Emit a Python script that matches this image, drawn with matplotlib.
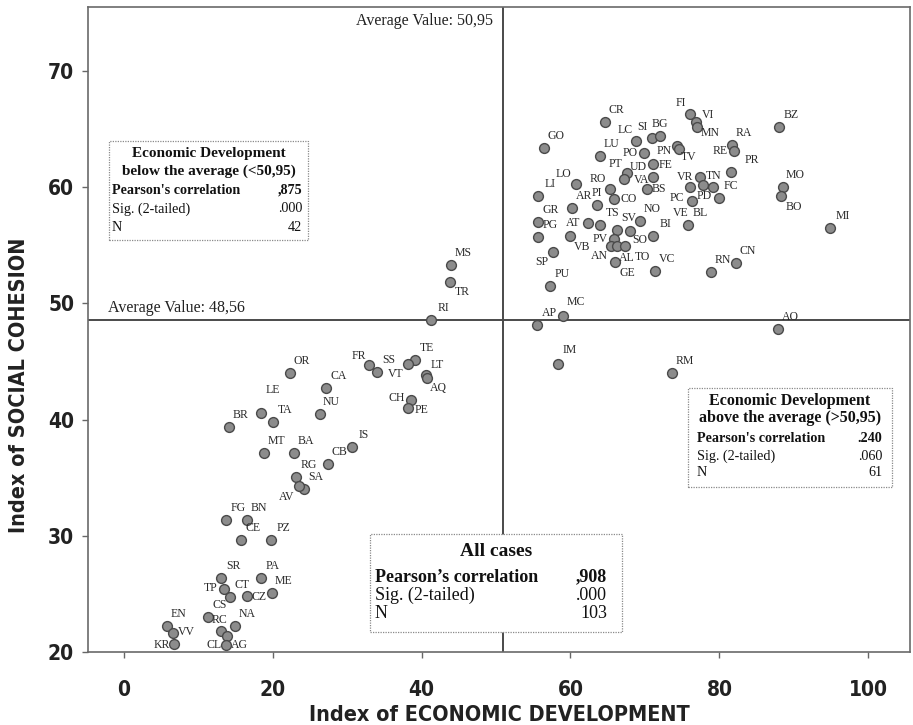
import matplotlib
matplotlib.use('Agg')
import matplotlib.pyplot as plt
from matplotlib import font_manager
from matplotlib.font_manager import FontProperties
from matplotlib.patches import Rectangle

# ---------------- data ----------------
codes = ['CR', 'FI', 'VI', 'BZ', 'GO', 'LC', 'SI', 'BG', 'MN', 'RA', 'LU', 'PO', 'PN', 'TV',
         'RE', 'PR', 'PT', 'UD', 'FE', 'LO', 'RO', 'VA', 'VR', 'TN', 'MO', 'LI', 'AR', 'PI',
         'BS', 'FC', 'PC', 'PD', 'VE', 'CO', 'BO', 'MI', 'GR', 'PG', 'AT', 'TS', 'NO', 'BL',
         'SV', 'BI', 'VB', 'PV', 'SO', 'AN', 'AL', 'TO', 'VC', 'RN', 'CN', 'SP', 'GE', 'PU',
         'MC', 'AP', 'AO', 'IM', 'RM',
         'MS', 'TR', 'RI', 'OR', 'FR', 'SS', 'TE', 'VT', 'LT', 'AQ', 'CA', 'LE', 'NU', 'TA',
         'BR', 'CH', 'PE', 'MT', 'BA', 'IS', 'CB', 'RG', 'SA', 'AV', 'FG', 'BN', 'CE', 'PZ',
         'SR', 'PA', 'TP', 'CT', 'CZ', 'ME', 'CS', 'RC', 'NA', 'EN', 'VV', 'KR', 'CL', 'AG']
econ = [64.6, 76.1, 76.8, 88.0, 56.5, 68.8, 71.0, 72.0, 77.0, 81.7, 63.9, 69.9, 74.3, 74.6,
        82.0, 81.6, 67.6, 71.1, 71.1, 60.7, 65.3, 67.2, 77.4, 77.8, 88.6, 55.7, 60.2, 63.5,
        70.3, 79.9, 76.1, 76.3, 79.2, 65.9, 88.3, 94.9, 55.7, 55.7, 62.4, 64.0, 69.3, 75.8,
        66.2, 71.1, 59.9, 65.8, 68.0, 65.5, 66.2, 67.3, 71.3, 78.9, 82.2, 57.7, 66.0, 57.3,
        59.0, 55.5, 87.9, 58.3, 73.7,
        44.0, 43.8, 41.3, 22.3, 33.0, 34.0, 39.1, 38.2, 40.6, 40.7, 27.2, 18.4, 26.3, 20.1,
        14.1, 38.6, 38.2, 18.9, 22.8, 30.6, 27.4, 23.2, 24.2, 23.6, 13.7, 16.5, 15.7, 19.8,
        13.1, 18.4, 13.4, 14.3, 16.5, 19.9, 11.3, 13.0, 14.9, 5.8, 6.6, 6.8, 13.9, 13.7]
social = [65.6, 66.3, 65.6, 65.2, 63.4, 64.0, 64.2, 64.4, 65.2, 63.6, 62.7, 62.9, 63.5, 63.3,
          63.1, 61.3, 61.2, 62.0, 60.9, 60.3, 59.8, 60.7, 60.9, 60.2, 60.0, 59.2, 58.2, 58.5,
          59.8, 59.1, 60.0, 58.8, 60.0, 59.0, 59.2, 56.5, 57.0, 55.7, 56.9, 56.7, 57.1, 56.7,
          56.3, 55.8, 55.8, 55.5, 56.2, 54.9, 54.9, 54.9, 52.8, 52.7, 53.5, 54.4, 53.6, 51.5,
          48.9, 48.1, 47.8, 44.8, 44.0,
          53.3, 51.8, 48.6, 44.0, 44.7, 44.1, 45.1, 44.8, 43.8, 43.6, 42.7, 40.6, 40.5, 39.8,
          39.4, 41.7, 41.0, 37.1, 37.1, 37.6, 36.2, 35.1, 34.0, 34.3, 31.4, 31.4, 29.6, 29.6,
          26.4, 26.4, 25.4, 24.7, 24.8, 25.1, 23.0, 21.8, 22.2, 22.2, 21.6, 20.7, 21.4, 20.6]

avg_econ = 50.95
avg_social = 48.56
x_ticks = [0, 20, 40, 60, 80, 100]
y_ticks = [20, 30, 40, 50, 60, 70]

box_below = ['Economic Development', 'below the average (<50,95)',
             ("Pearson's correlation", ',875'), ('Sig. (2-tailed)', '.000'), ('N', '42')]
box_above = ['Economic Development', 'above the average (>50,95)',
             ("Pearson's correlation", '.240'), ('Sig. (2-tailed)', '.060'), ('N', '61')]
box_all = ['All cases',
           ("Pearson\u2019s correlation", ',908'), ('Sig. (2-tailed)', '.000'), ('N', '103')]

# ---------------- style ----------------
DPI = 100
label_offsets = {  # pixels: right, down (default upper-right)
    'FI': (-10, -11), 'VI': (12, -7), 'LC': (-11, -11), 'SI': (-10, -11), 'BG': (0, -12),
    'MN': (13, 6), 'PO': (-14, 0), 'PN': (-13, 5), 'TV': (9, 8), 'RE': (-14, 0),
    'PR': (21, -12), 'PT': (-12, -9), 'UD': (-15, 3), 'LO': (-12, -10), 'RO': (-12, -10),
    'VA': (18, 1), 'VR': (-15, 0), 'TN': (11, -9), 'PI': (0, -12), 'BS': (12, 0),
    'PC': (-13, 11), 'PD': (12, -5), 'VE': (-33, 26), 'CO': (14, 0), 'BO': (13, 11),
    'AT': (-15, 0), 'VB': (12, 11), 'PV': (-13, 0), 'SO': (10, 9), 'AN': (-12, 10),
    'AL': (10, 12), 'TO': (18, 11), 'SP': (-12, 10), 'GE': (12, 11), 'MC': (13, -14),
    'IM': (12, -14), 'TR': (12, 10), 'FR': (-11, -9), 'VT': (-12, 10), 'LT': (11, -10),
    'AQ': (12, 10), 'LE': (12, -23), 'CH': (-14, -2), 'PE': (13, 2), 'AV': (-13, 11),
    'TP': (-13, -1), 'CZ': (12, 1), 'RC': (-1, -11), 'VV': (13, -1), 'KR': (-13, 1),
    'CL': (-13, 9), 'AG': (14, 0),
}

serif = 'Liberation Serif'
ttf = font_manager.fontManager.ttflist
narrow_file = None
for pref in ['LiberationSansNarrow-Bold.', 'ArialNarrow', 'DejaVuSansCondensed-Bold.']:
    for f in ttf:
        if pref in f.fname.replace(' ', ''):
            narrow_file = f.fname
            break
    if narrow_file:
        break
if narrow_file:
    tick_fp = FontProperties(fname=narrow_file, size=15)
    lab_fp = FontProperties(fname=narrow_file, size=15.5)
else:
    tick_fp = FontProperties(family='Liberation Sans', weight='bold', size=11.5)
    lab_fp = FontProperties(family='Liberation Sans', weight='bold', size=14)

fig = plt.figure(figsize=(9.13, 7.25), dpi=DPI)
L, R, T, B = 88, 910, 7, 652
ax = fig.add_axes([L / 913, (725 - B) / 725, (R - L) / 913, (B - T) / 725])
ax.set_xlim(-4.8, 105.6)
ax.set_ylim(20, 75.5)

ax.axvline(avg_econ, color='#4a4a4a', lw=1.4, zorder=2)
ax.axhline(avg_social, color='#4a4a4a', lw=1.4, zorder=2)

ax.scatter(econ, social, s=50, c='#8c8c8c', edgecolors='#4a4a4a', linewidths=1.0, zorder=3)
for code, x, y in zip(codes, econ, social):
    dx, dy = label_offsets.get(code, (12, -12))
    ax.annotate(code, (x, y), xytext=(dx * 72 / DPI, -dy * 72 / DPI),
                textcoords='offset points', ha='center', va='center',
                fontsize=8.5, family=serif, color='#2a2a2a', zorder=4)

ax.set_xticks(x_ticks)
ax.set_yticks(y_ticks)
ax.tick_params(direction='out', length=4, width=1, color='#666666')
ax.tick_params(axis='x', pad=16)
ax.tick_params(axis='y', pad=6)
for lbl in ax.get_xticklabels() + ax.get_yticklabels():
    lbl.set_fontproperties(tick_fp)
    lbl.set_color('#222222')
for sp in ax.spines.values():
    sp.set_color('#6a6a6a')
    sp.set_linewidth(1.2)

ax.set_xlabel('Index of ECONOMIC DEVELOPMENT', fontproperties=lab_fp, labelpad=4, color='#222222')
ax.set_ylabel('Index of SOCIAL COHESION', fontproperties=lab_fp, color='#222222')


def fx(px):
    return (px - L) / (R - L)


def fy(py):
    return (B - py) / (B - T)


ax.yaxis.set_label_coords(fx(29), fy(385))

# average value annotations
ax.annotate('Average Value: 50,95', xy=(avg_econ, 1), xycoords=('data', 'axes fraction'),
            xytext=(-7, -10), textcoords='offset points', ha='right', va='center',
            fontsize=11.5, family=serif, color='#222222')
ax.annotate('Average Value: 48,56', xy=(0, avg_social), xycoords=('axes fraction', 'data'),
            xytext=(14.5, 8.5), textcoords='offset points', ha='left', va='center',
            fontsize=11.5, family=serif, color='#222222')


def draw_box(x0, x1, y0, y1, lines, ys, xl, xr, hsize, bsize):
    rect = Rectangle((fx(x0), fy(y1)), fx(x1) - fx(x0), fy(y0) - fy(y1), transform=ax.transAxes,
                     facecolor='white', edgecolor='#8a8a8a', lw=0.9, ls=(0, (1, 1)), zorder=5)
    ax.add_patch(rect)
    xc = fx((x0 + x1) / 2)
    for line, yy in zip(lines, ys):
        if isinstance(line, str):
            ax.text(xc, fy(yy), line, transform=ax.transAxes, ha='center', va='center',
                    fontsize=hsize, family=serif, weight='bold', color='#111111', zorder=6)
        else:
            bold = line[0].startswith('Pearson')
            w = 'bold' if bold else 'normal'
            ax.text(fx(xl), fy(yy), line[0], transform=ax.transAxes, ha='left', va='center',
                    fontsize=bsize, family=serif, weight=w, color='#111111', zorder=6)
            ax.text(fx(xr), fy(yy), line[1], transform=ax.transAxes, ha='right', va='center',
                    fontsize=bsize, family=serif, weight=w, color='#111111', zorder=6)


draw_box(109, 308, 141, 240, box_below, [153, 171, 190, 209, 227], 112, 302, 11, 10.2)
draw_box(688, 892, 388, 487, box_above, [401, 418, 438, 456, 473], 697, 882, 11.5, 10.2)
draw_box(370, 622, 534, 632, box_all, [551, 577, 595, 614], 375, 607, 14, 13)

fig.savefig('out.png', dpi=DPI, facecolor='white')
